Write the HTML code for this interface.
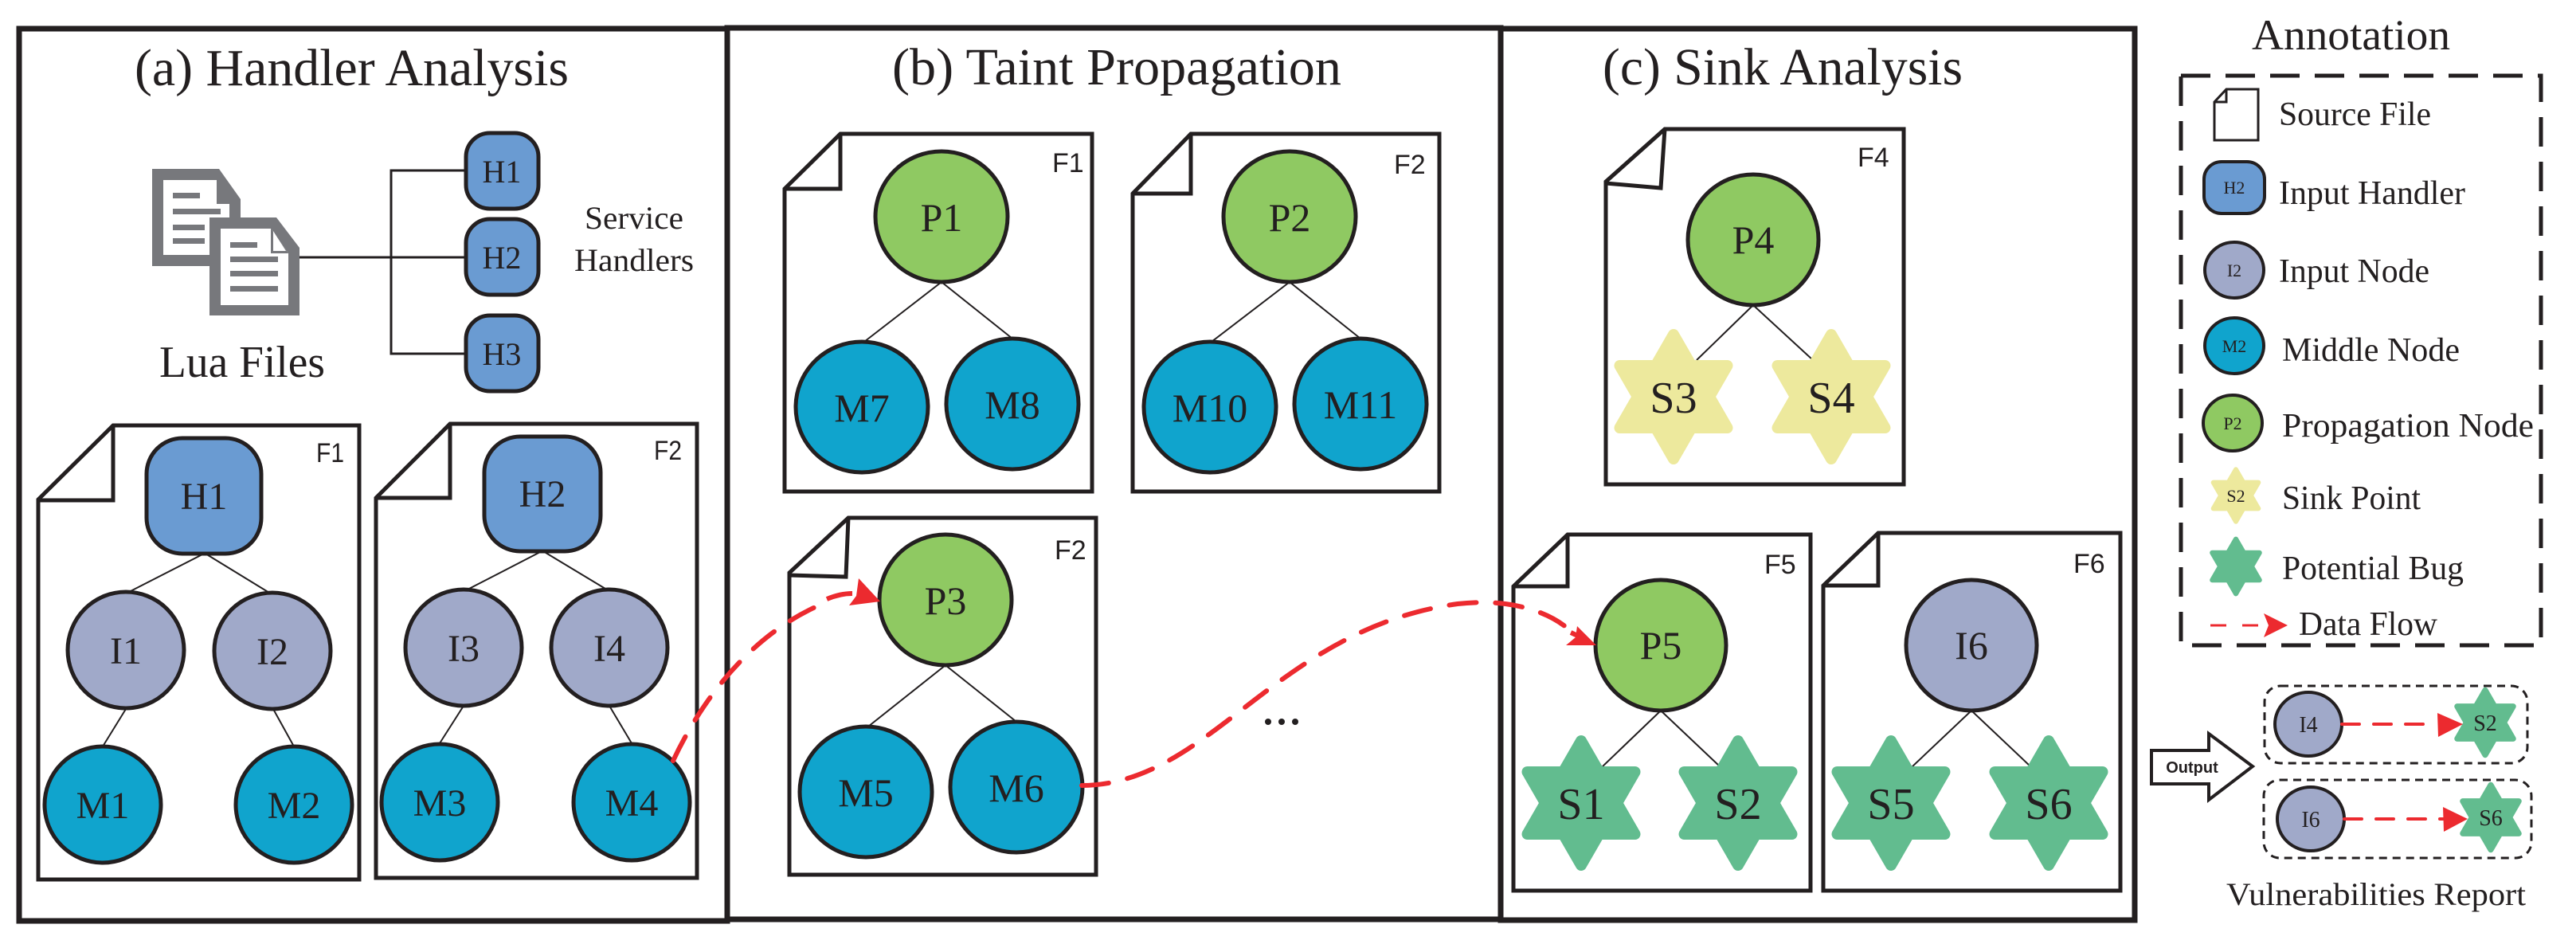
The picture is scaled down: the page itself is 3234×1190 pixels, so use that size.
<!DOCTYPE html>
<html><head><meta charset="utf-8"><style>
html,body{margin:0;padding:0;background:#fff;}
svg{display:block;}
.t{font-family:"Liberation Serif",serif;fill:#231f20;}
.s{font-family:"Liberation Sans",sans-serif;fill:#231f20;}
</style></head><body>
<svg width="3234" height="1190" viewBox="0 0 3234 1190" xmlns="http://www.w3.org/2000/svg">
<defs>
<g id="star"><polygon points="0,-78 22.5,-39 67.5,-39 45,0 67.5,39 22.5,39 0,78 -22.5,39 -67.5,39 -45,0 -67.5,-39 -22.5,-39" stroke-linejoin="round" stroke-width="14"/></g>
</defs>
<g fill="none" stroke="#231f20" stroke-width="7">
<rect x="24" y="36" width="889" height="1120"/>
<rect x="913" y="35" width="971" height="1119"/>
<rect x="1884" y="36" width="796" height="1119"/>
</g>
<!-- titles -->
<text class="t" x="169" y="107" font-size="66" textLength="545" lengthAdjust="spacingAndGlyphs">(a) Handler Analysis</text>
<text class="t" x="1120" y="106" font-size="66" textLength="564" lengthAdjust="spacingAndGlyphs">(b) Taint Propagation</text>
<text class="t" x="2012" y="106" font-size="66" textLength="452" lengthAdjust="spacingAndGlyphs">(c) Sink Analysis</text>
<!-- Lua files icon -->
<g fill="#77787c">
<path d="M191,212 H275 L302,250 V296 H288 V256 L272,256 V226 H205 V320 H263 V334 H191 Z"/>
<path d="M263,273 H347 L376,311 V396 H263 Z" />
</g>
<path d="M277,287 H340 L362,318 V383 H277 Z" fill="#fff"/>
<path d="M340,287 V318 H362" fill="#77787c"/>
<path d="M343,290 L359,315 H343 Z" fill="#fff"/>
<g fill="#77787c"><rect x="217" y="242" width="34" height="7"/><rect x="217" y="262" width="60" height="7"/><rect x="217" y="282" width="40" height="7"/><rect x="217" y="299" width="40" height="7"/>
<rect x="289" y="304" width="34" height="7"/><rect x="289" y="322" width="60" height="7"/><rect x="289" y="340" width="60" height="7"/><rect x="289" y="359" width="60" height="7"/></g>
<g stroke="#231f20" stroke-width="3" fill="none"><path d="M376,323 H585 M585,214 H491 V444 H585"/></g>
<g fill="#6a9bd2" stroke="#231f20" stroke-width="5">
<rect x="585" y="167" width="91" height="95" rx="30"/>
<rect x="585" y="275" width="91" height="95" rx="30"/>
<rect x="585" y="396" width="91" height="95" rx="30"/>
</g>
<g class="t" font-size="40" text-anchor="middle"><text x="630" y="229">H1</text><text x="630" y="337">H2</text><text x="630" y="458">H3</text></g>
<text class="t" x="796" y="287" font-size="40" text-anchor="middle" textLength="124" lengthAdjust="spacingAndGlyphs">Service</text>
<text class="t" x="796" y="340" font-size="40" text-anchor="middle" textLength="150" lengthAdjust="spacingAndGlyphs">Handlers</text>
<text class="t" x="200" y="473" font-size="56" textLength="208" lengthAdjust="spacingAndGlyphs">Lua Files</text>
<!-- doc shapes -->
<g fill="#fff" stroke="#231f20" stroke-width="5" stroke-linejoin="miter">
<path d="M48,627 L142,534 H451 V1104 H48 Z M142,534 V628 H48"/>
<path d="M472,625 L565,532 H875 V1102 H472 Z M565,532 V625 H472"/>
<path d="M985,237 L1055,168 H1371 V617 H985 Z M1055,168 V237 H985"/>
<path d="M1422,243 L1495,168 H1807 V617 H1422 Z M1495,168 V243 H1422"/>
<path d="M991,719 L1065,650 H1376 V1098 H991 Z M1065,650 L1062,724 L991,722"/>
<path d="M2016,228 L2090,162 H2390 V608 H2016 Z M2090,162 L2085,236 L2016,230"/>
<path d="M1900,736 L1968,671 H2273 V1118 H1900 Z M1968,671 V736 H1900"/>
<path d="M2289,735 L2358,669 H2662 V1118 H2289 Z M2358,669 V735 H2289"/>
</g>
<g class="s" font-size="34"><text x="397" y="580" textLength="35" lengthAdjust="spacingAndGlyphs">F1</text><text x="821" y="577" textLength="35" lengthAdjust="spacingAndGlyphs">F2</text>
<text x="1321" y="216">F1</text><text x="1750" y="218">F2</text><text x="1324" y="702">F2</text>
<text x="2332" y="209">F4</text><text x="2215" y="720">F5</text><text x="2603" y="719">F6</text></g>
<!-- connectors -->
<g stroke="#231f20" stroke-width="2">
<path d="M256,695 L162,743 M258,695 L338,744 M158,890 L129,937 M343,890 L369,937"/>
<path d="M680,692 L585,741 M682,692 L765,742 M582,886 L552,933 M765,886 L793,933"/>
<path d="M1182,354 L1085,429 M1182,354 L1271,425 M1619,354 L1521,429 M1619,354 L1708,425 M1187,835 L1090,912 M1187,835 L1276,906"/>
<path d="M2201,383 L2130,452 M2201,383 L2276,452 M2085,892 L2012,962 M2085,892 L2159,962 M2475,892 L2401,962 M2475,892 L2549,962"/>
</g>
<g stroke="#231f20" stroke-width="5">
<rect x="184" y="550" width="144" height="145" rx="45" fill="#6a9bd2"/>
<rect x="608" y="548" width="146" height="144" rx="45" fill="#6a9bd2"/>
<g fill="#a0a9c9"><ellipse cx="158" cy="816" rx="73" ry="73"/><ellipse cx="342" cy="817" rx="73" ry="73"/><ellipse cx="582" cy="813" rx="73" ry="73"/><ellipse cx="765" cy="813" rx="73" ry="73"/><ellipse cx="2475" cy="810" rx="82" ry="82"/></g>
<g fill="#10a4cd"><ellipse cx="129" cy="1010" rx="73" ry="73"/><ellipse cx="369" cy="1010" rx="73" ry="73"/><ellipse cx="552" cy="1007" rx="73" ry="73"/><ellipse cx="793" cy="1007" rx="73" ry="73"/>
<ellipse cx="1082" cy="511" rx="83" ry="82"/><ellipse cx="1271" cy="507" rx="83" ry="82"/><ellipse cx="1519" cy="511" rx="83" ry="82"/><ellipse cx="1708" cy="507" rx="83" ry="82"/>
<ellipse cx="1087" cy="994" rx="83" ry="82"/><ellipse cx="1276" cy="988" rx="83" ry="82"/></g>
<g fill="#8fc962"><ellipse cx="1182" cy="272" rx="83" ry="82"/><ellipse cx="1619" cy="272" rx="83" ry="82"/><ellipse cx="1187" cy="753" rx="83" ry="82"/><ellipse cx="2201" cy="301" rx="82" ry="82"/><ellipse cx="2085" cy="810" rx="82" ry="82"/></g>
</g>
<g fill="#ede99d" stroke="#ede99d"><use href="#star" x="2101" y="498"/><use href="#star" x="2299" y="498"/></g>
<g fill="#62bc8f" stroke="#62bc8f"><use href="#star" x="1985" y="1008"/><use href="#star" x="2182" y="1008"/><use href="#star" x="2374" y="1008"/><use href="#star" x="2572" y="1008"/></g>
<g class="t" font-size="48" text-anchor="middle">
<text x="256" y="639">H1</text><text x="681" y="636">H2</text>
<text x="158" y="833">I1</text><text x="342" y="834">I2</text><text x="582" y="830">I3</text><text x="765" y="830">I4</text>
<text x="129" y="1027">M1</text><text x="369" y="1027">M2</text><text x="552" y="1024">M3</text><text x="793" y="1024">M4</text>
</g>
<g class="t" font-size="50" text-anchor="middle">
<text x="1182" y="290">P1</text><text x="1619" y="290">P2</text><text x="1187" y="771">P3</text>
<text x="1082" y="529">M7</text><text x="1271" y="525">M8</text><text x="1519" y="529">M10</text><text x="1708" y="525">M11</text>
<text x="1087" y="1012">M5</text><text x="1276" y="1006">M6</text>
<text x="2201" y="318">P4</text><text x="2085" y="827">P5</text><text x="2475" y="827">I6</text>
</g>
<g class="t" font-size="56" text-anchor="middle">
<text x="2101" y="518">S3</text><text x="2299" y="518">S4</text><text x="1985" y="1028">S1</text><text x="2182" y="1028">S2</text><text x="2374" y="1028">S5</text><text x="2572" y="1028">S6</text>
</g>
<g fill="#231f20"><circle cx="1592" cy="906" r="4"/><circle cx="1609" cy="906" r="4"/><circle cx="1626" cy="906" r="4"/></g>
<g fill="none" stroke="#ec2a2f" stroke-width="6" stroke-linecap="round" stroke-dasharray="34,24">
<path d="M845,955 C885,870 950,790 1040,755"/>
<path d="M1358,986 C1520,985 1600,790 1830,758 C1900,750 1950,770 1975,795"/>
</g>
<path d="M1038,752 C1050,747 1060,745 1070,745" fill="none" stroke="#ec2a2f" stroke-width="6"/>
<path d="M1078,726 L1105,755 L1066,760 L1075,748 Z" fill="#ec2a2f"/>
<path d="M1972,794 L1985,800" stroke="#ec2a2f" stroke-width="6"/>
<path d="M1980,786 L2004,810 L1966,810 L1978,800 Z" fill="#ec2a2f"/>
<!-- annotation -->
<text class="t" x="2827" y="62" font-size="54" textLength="249" lengthAdjust="spacingAndGlyphs">Annotation</text>
<rect x="2738" y="95" width="452" height="715" fill="none" stroke="#231f20" stroke-width="5" stroke-dasharray="37,19"/>
<path d="M2780,128 L2795,112 H2835 V176 H2780 Z M2795,112 V128 H2780" fill="#fff" stroke="#231f20" stroke-width="3"/>
<rect x="2767" y="203" width="76" height="65" rx="22" fill="#6a9bd2" stroke="#231f20" stroke-width="4"/>
<ellipse cx="2805" cy="339" rx="37" ry="35" fill="#a0a9c9" stroke="#231f20" stroke-width="4"/>
<ellipse cx="2805" cy="434" rx="37" ry="35" fill="#10a4cd" stroke="#231f20" stroke-width="4"/>
<ellipse cx="2803" cy="531" rx="37" ry="35" fill="#8fc962" stroke="#231f20" stroke-width="4"/>
<g transform="translate(2807,622) scale(0.42)" fill="#ede99d" stroke="#ede99d"><use href="#star"/></g>
<g transform="translate(2807,711) scale(0.44)" fill="#62bc8f" stroke="#62bc8f"><use href="#star"/></g>
<g class="t" font-size="22" text-anchor="middle"><text x="2805" y="243">H2</text><text x="2805" y="347">I2</text><text x="2805" y="442">M2</text><text x="2803" y="539">P2</text><text x="2807" y="630">S2</text></g>
<g class="t" font-size="42">
<text x="2861" y="157" textLength="191" lengthAdjust="spacingAndGlyphs">Source File</text>
<text x="2861" y="256" textLength="234" lengthAdjust="spacingAndGlyphs">Input Handler</text>
<text x="2861" y="354" textLength="189" lengthAdjust="spacingAndGlyphs">Input Node</text>
<text x="2865" y="453" textLength="223" lengthAdjust="spacingAndGlyphs">Middle Node</text>
<text x="2865" y="548" textLength="316" lengthAdjust="spacingAndGlyphs">Propagation  Node</text>
<text x="2865" y="639" textLength="174" lengthAdjust="spacingAndGlyphs">Sink Point</text>
<text x="2865" y="727" textLength="228" lengthAdjust="spacingAndGlyphs">Potential Bug</text>
<text x="2886" y="797" textLength="174" lengthAdjust="spacingAndGlyphs">Data Flow</text>
</g>
<path d="M2775,785 H2845" stroke="#ec2a2f" stroke-width="3" stroke-dasharray="20,20"/>
<path d="M2842,770 L2872,785 L2842,800 L2848,785 Z" fill="#ec2a2f"/>
<polygon points="2701,942 2773,942 2773,921 2828,962 2773,1004 2773,984 2701,984" fill="#fff" stroke="#231f20" stroke-width="4"/>
<text class="s" x="2752" y="970" font-size="20" font-weight="bold" text-anchor="middle">Output</text>
<g fill="none" stroke="#231f20" stroke-width="3" stroke-dasharray="10,7">
<rect x="2843" y="861" width="330" height="97" rx="20"/>
<rect x="2842" y="979" width="336" height="98" rx="20"/>
</g>
<ellipse cx="2898" cy="909" rx="42" ry="40" fill="#a0a9c9" stroke="#231f20" stroke-width="4"/>
<ellipse cx="2901" cy="1028" rx="42" ry="40" fill="#a0a9c9" stroke="#231f20" stroke-width="4"/>
<g transform="translate(3120,907) scale(0.52)" fill="#62bc8f" stroke="#62bc8f"><use href="#star"/></g>
<g transform="translate(3127,1026) scale(0.52)" fill="#62bc8f" stroke="#62bc8f"><use href="#star"/></g>
<g stroke="#ec2a2f" stroke-width="4" stroke-linecap="round" stroke-dasharray="22,18"><path d="M2940,909 H3060"/><path d="M2943,1028 H3067"/></g>
<path d="M3060,895 L3092,909 L3061,925 Z" fill="#ec2a2f"/>
<path d="M3067,1013 L3098,1028 L3068,1044 Z" fill="#ec2a2f"/>
<g class="t" font-size="28" text-anchor="middle"><text x="2898" y="919">I4</text><text x="3120" y="917">S2</text><text x="2901" y="1038">I6</text><text x="3127" y="1036">S6</text></g>
<text class="t" x="2795" y="1136" font-size="40" textLength="376" lengthAdjust="spacingAndGlyphs">Vulnerabilities Report</text>
</svg>
</body></html>
